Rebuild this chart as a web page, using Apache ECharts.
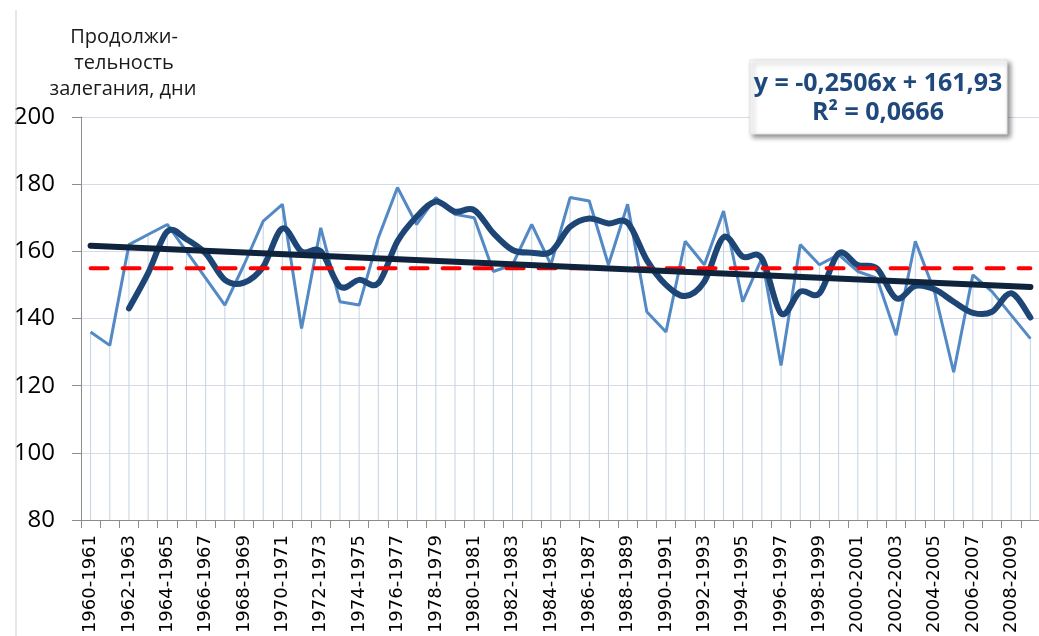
<!DOCTYPE html>
<html>
<head>
<meta charset="utf-8">
<script src="https://cdn.jsdelivr.net/npm/echarts@6/dist/echarts.min.js"></script>
<style>
html,body{margin:0;padding:0;background:#fff;}
#chart{width:1039px;height:636px;}
</style>
</head>
<body>
<div id="chart"></div>
<script>
var categories = [];
for (var y = 1960; y <= 2009; y++) { categories.push(y + '-' + (y + 1)); }

var durationValues = [136,132,162,165,168,160,152,144,156,169,174,137,167,145,144,164,179,168,176,171,170,154,156,168,156,176,175,156,174,142,136,163,156,172,145,158,126,162,156,159,154,152,135,163,148,124,153,148,141,134];

var movingAvgValues = [null,null,143,153.5,165.9,163.6,159.4,151.5,150.7,155.4,166.8,159.9,160,149.5,151.5,150.5,163,170.3,174.8,171.8,172.3,165.4,160.4,159.6,159.9,167.3,169.8,168.3,168.5,157.4,150,146.7,151,164.2,158.4,157.9,141.5,148,147.5,159.4,155.9,154.9,146,149.7,148.7,145,141.7,142,147.5,140.3];

var trendPoints = [[0, 161.68], [49, 149.40]];
var meanPoints = [[0, 155], [49, 155]];

var yTicks = [80, 100, 120, 140, 160, 180, 200];

var chart = echarts.init(document.getElementById('chart'), null, {renderer: 'canvas'});

function renderSmooth(params, api) {
  if (params.dataIndex !== 0) { return null; }
  var pts = [];
  for (var i = 0; i < movingAvgValues.length; i++) {
    if (movingAvgValues[i] != null) { pts.push(api.coord([i, movingAvgValues[i]])); }
  }
  var n = pts.length;
  var d = 'M' + pts[0][0] + ',' + pts[0][1];
  var k = 1 / 6;
  for (var j = 0; j < n - 1; j++) {
    var p0 = pts[Math.max(j - 1, 0)], p1 = pts[j], p2 = pts[j + 1], p3 = pts[Math.min(j + 2, n - 1)];
    var c1x = p1[0] + (p2[0] - p0[0]) * k, c1y = p1[1] + (p2[1] - p0[1]) * k;
    var c2x = p2[0] - (p3[0] - p1[0]) * k, c2y = p2[1] - (p3[1] - p1[1]) * k;
    d += 'C' + c1x + ',' + c1y + ',' + c2x + ',' + c2y + ',' + p2[0] + ',' + p2[1];
  }
  return {
    type: 'path',
    shape: {pathData: d},
    style: {stroke: '#1d4677', lineWidth: 6, fill: null, lineCap: 'round', lineJoin: 'round'}
  };
}

var option = {
  animation: false,
  backgroundColor: '#ffffff',
  grid: {left: 81, top: 117, width: 959, height: 403, containLabel: false, outerBoundsMode: 'none'},
  xAxis: {
    type: 'category',
    data: categories,
    boundaryGap: true,
    axisLine: {show: true, lineStyle: {color: '#8c8c8c', width: 1}},
    axisTick: {show: true, interval: 0, length: 8, lineStyle: {color: '#8c8c8c'}},
    axisLabel: {
      interval: 1, rotate: 90, margin: 15,
      fontSize: 18, color: '#000', fontFamily: 'DejaVu Sans'
    },
    splitLine: {show: false}
  },
  yAxis: {
    type: 'value',
    min: yTicks[0], max: yTicks[yTicks.length - 1], interval: 20,
    axisLine: {show: true, lineStyle: {color: '#8c8c8c', width: 1}},
    axisTick: {show: true, length: 9, lineStyle: {color: '#8c8c8c'}},
    axisLabel: {fontSize: 24, color: '#000', fontFamily: 'Open Sans', margin: 26},
    splitLine: {show: true, lineStyle: {color: '#d3dce8', width: 1}}
  },
  series: [
    {
      name: 'drop', type: 'bar', data: durationValues, barWidth: 1,
      itemStyle: {color: '#c3d2e4'}, z: 1, silent: true
    },
    {
      name: 'raw', type: 'line', data: durationValues, symbol: 'none',
      lineStyle: {color: '#5389c4', width: 3}, z: 3
    },
    {
      name: 'ma', type: 'custom', data: [0], renderItem: renderSmooth, z: 4, silent: true
    },
    {
      name: 'mean', type: 'line', data: meanPoints, symbol: 'none',
      lineStyle: {color: '#ff0000', width: 4, type: [17, 15], cap: 'round'}, z: 5
    },
    {
      name: 'trend', type: 'line', data: trendPoints, symbol: 'none',
      lineStyle: {color: '#0f233d', width: 6, cap: 'round'}, z: 6
    }
  ],
  graphic: [
    {
      type: 'line', shape: {x1: 16, y1: 10, x2: 16, y2: 636},
      style: {stroke: '#cfcfcf', lineWidth: 1}, z: 10
    },
    {
      type: 'text',
      style: {
        x: 124, y: 37, text: 'Продолжи-', fill: '#1a1a1a',
        font: '20px "Open Sans"', align: 'center', verticalAlign: 'middle'
      }, z: 10
    },
    {
      type: 'text',
      style: {
        x: 124, y: 63, text: 'тельность', fill: '#1a1a1a',
        font: '20px "Open Sans"', align: 'center', verticalAlign: 'middle'
      }, z: 10
    },
    {
      type: 'text',
      style: {
        x: 123, y: 89, text: 'залегания, дни', fill: '#1a1a1a',
        font: '20px "Open Sans"', align: 'center', verticalAlign: 'middle'
      }, z: 10
    },
    {
      type: 'rect', shape: {x: 750, y: 60, width: 257, height: 74},
      style: {
        fill: '#ffffff', stroke: '#e2e2e2', lineWidth: 1,
        shadowBlur: 5, shadowOffsetX: 3, shadowOffsetY: 3, shadowColor: 'rgba(0,0,0,0.45)'
      }, z: 20
    },
    {
      type: 'text',
      style: {
        x: 878, y: 84, text: 'y = -0,2506x + 161,93', fill: '#1f497d',
        font: 'bold 25px "Open Sans"', align: 'center', verticalAlign: 'middle'
      }, z: 21
    },
    {
      type: 'text',
      style: {
        x: 878, y: 113, text: 'R² = 0,0666', fill: '#1f497d',
        font: 'bold 25px "Open Sans"', align: 'center', verticalAlign: 'middle'
      }, z: 21
    }
  ]
};
chart.setOption(option);
</script>
</body>
</html>
